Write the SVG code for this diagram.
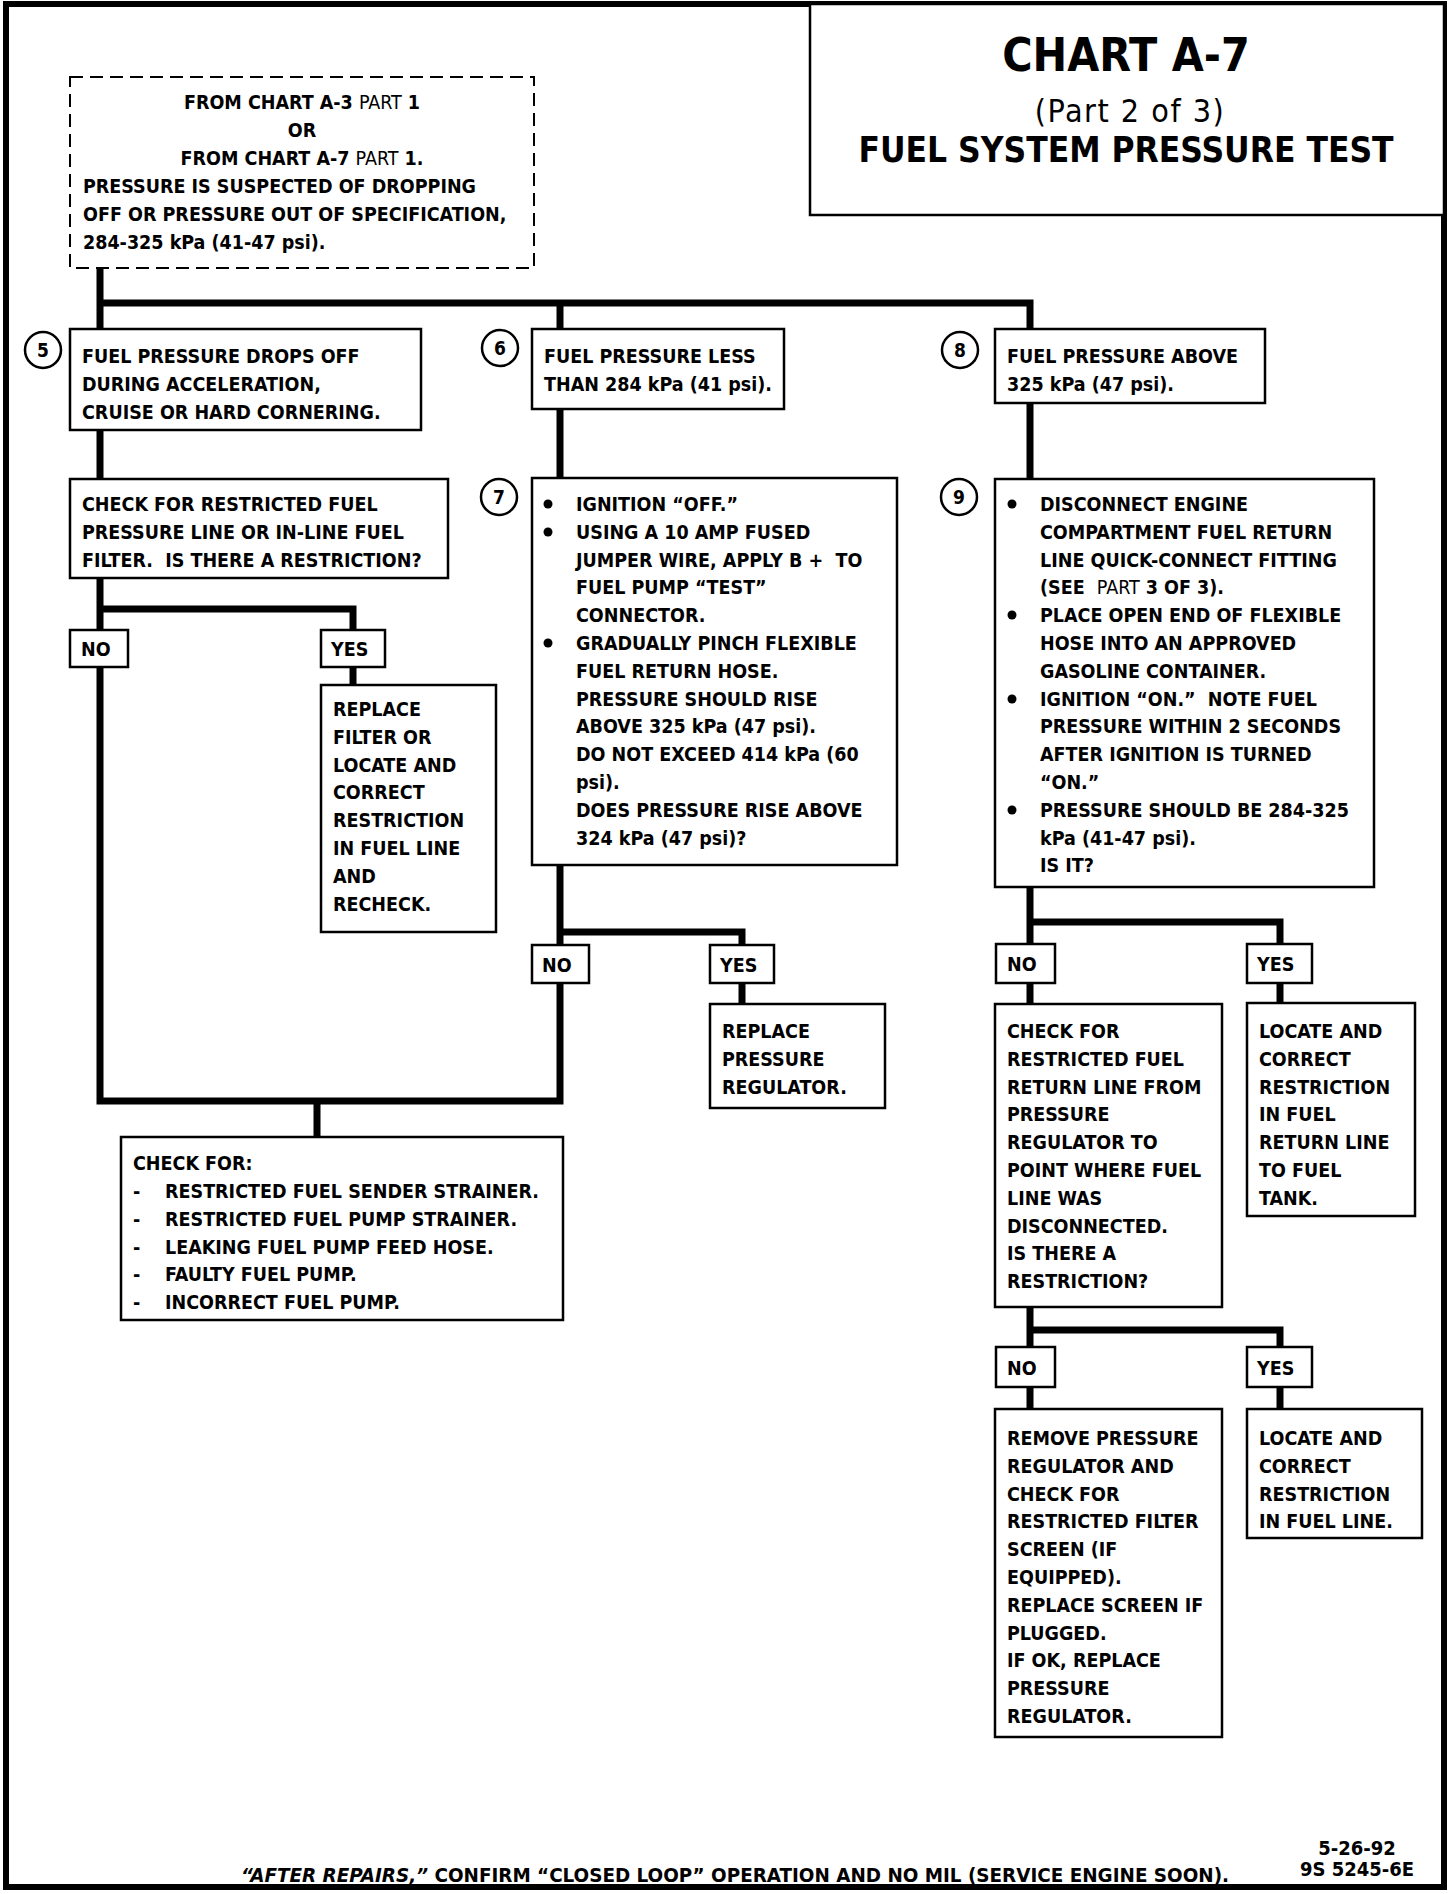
<svg xmlns="http://www.w3.org/2000/svg" width="1456" height="1894" viewBox="0 0 1456 1894">
<style>
text{font-family:"DejaVu Sans Condensed","DejaVu Sans",sans-serif;font-stretch:condensed;font-weight:bold;font-size:19.5px;fill:#000}
.n{font-weight:normal}
.box{fill:#fff;stroke:#000;stroke-width:2.5}
.dash{fill:#fff;stroke:#000;stroke-width:2;stroke-dasharray:13 7}
.conn{fill:none;stroke:#000;stroke-width:7;stroke-linejoin:miter}
.circ{fill:#fff;stroke:#000;stroke-width:2.5}
.num{font-size:19px;text-anchor:middle}
.c{text-anchor:middle}
</style>
<rect x="6" y="4" width="1438" height="1883" fill="#fff" stroke="#000" stroke-width="6"/>

<g id="connectors">
<path class="conn" d="M100,269 V329 M100,303 H1030 V329 M560,303 V329"/>
<path class="conn" d="M100,430 V479"/>
<path class="conn" d="M100,578 V630 M100,609 H353 V630"/>
<path class="conn" d="M100,667 V1101 H560 V983 M317,1101 V1137"/>
<path class="conn" d="M353,667 V685"/>
<path class="conn" d="M560,409 V478"/>
<path class="conn" d="M560,865 V945 M560,932 H742 V945"/>
<path class="conn" d="M742,983 V1004"/>
<path class="conn" d="M1030,403 V479"/>
<path class="conn" d="M1030,887 V944 M1030,922 H1280 V944"/>
<path class="conn" d="M1030,983 V1004 M1280,983 V1003"/>
<path class="conn" d="M1030,1307 V1347 M1030,1330 H1280 V1347"/>
<path class="conn" d="M1030,1387 V1409 M1280,1387 V1409"/>
</g>

<g id="title">
<rect class="box" x="810" y="4" width="634" height="211"/>
<text class="c" x="1126" y="71" style="font-size:46px">CHART A-7</text>
<text class="c n" x="1130" y="122" style="font-size:32px;letter-spacing:1.5px">(Part 2 of 3)</text>
<text class="c" x="1126" y="162" style="font-size:35px">FUEL SYSTEM PRESSURE TEST</text>
</g>

<g id="start">
<rect class="dash" x="70" y="77" width="464" height="191"/>
<text class="c" x="302" y="109">FROM CHART A-3 <tspan class="n">PART</tspan> 1</text>
<text class="c" x="302" y="137">OR</text>
<text class="c" x="302" y="165">FROM CHART A-7 <tspan class="n">PART</tspan> 1.</text>
<text x="83" y="193">PRESSURE IS SUSPECTED OF DROPPING<tspan x="83" dy="27.8">OFF OR PRESSURE OUT OF SPECIFICATION,</tspan><tspan x="83" dy="27.8">284-325 kPa (41-47 psi).</tspan></text>
</g>

<g id="step5">
<circle class="circ" cx="43" cy="350" r="18"/>
<text class="num" x="43" y="357">5</text>
<rect class="box" x="70" y="329" width="351" height="101"/>
<text x="82" y="363">FUEL PRESSURE DROPS OFF<tspan x="82" dy="27.8">DURING ACCELERATION,</tspan><tspan x="82" dy="27.8">CRUISE OR HARD CORNERING.</tspan></text>
</g>

<g id="step6">
<circle class="circ" cx="500" cy="348" r="18"/>
<text class="num" x="500" y="355">6</text>
<rect class="box" x="532" y="329" width="252" height="80"/>
<text x="544" y="363">FUEL PRESSURE LESS<tspan x="544" dy="27.8">THAN 284 kPa (41 psi).</tspan></text>
</g>

<g id="step8">
<circle class="circ" cx="960" cy="350" r="18"/>
<text class="num" x="960" y="357">8</text>
<rect class="box" x="995" y="329" width="270" height="74"/>
<text x="1007" y="363">FUEL PRESSURE ABOVE<tspan x="1007" dy="27.8">325 kPa (47 psi).</tspan></text>
</g>

<g id="check-restriction">
<rect class="box" x="70" y="479" width="378" height="99"/>
<text x="82" y="511">CHECK FOR RESTRICTED FUEL<tspan x="82" dy="27.8">PRESSURE LINE OR IN-LINE FUEL</tspan><tspan x="82" dy="27.8">FILTER.&#160; IS THERE A RESTRICTION?</tspan></text>
</g>

<g id="no1"><rect class="box" x="70" y="630" width="58" height="37"/><text x="81" y="656">NO</text></g>
<g id="yes1"><rect class="box" x="321" y="630" width="64" height="37"/><text x="331" y="656">YES</text></g>

<g id="replace-filter">
<rect class="box" x="321" y="685" width="175" height="247"/>
<text x="333" y="716">REPLACE<tspan x="333" dy="27.8">FILTER OR</tspan><tspan x="333" dy="27.8">LOCATE AND</tspan><tspan x="333" dy="27.8">CORRECT</tspan><tspan x="333" dy="27.8">RESTRICTION</tspan><tspan x="333" dy="27.8">IN FUEL LINE</tspan><tspan x="333" dy="27.8">AND</tspan><tspan x="333" dy="27.8">RECHECK.</tspan></text>
</g>

<g id="step7">
<circle class="circ" cx="499" cy="497" r="18"/>
<text class="num" x="499" y="504">7</text>
<rect class="box" x="532" y="478" width="365" height="387"/>
<circle cx="548" cy="504" r="4.5"/>
<circle cx="548" cy="532" r="4.5"/>
<circle cx="548" cy="643" r="4.5"/>
<text x="576" y="511">IGNITION “OFF.”<tspan x="576" dy="27.8">USING A 10 AMP FUSED</tspan><tspan x="576" dy="27.8">JUMPER WIRE, APPLY B +&#160; TO</tspan><tspan x="576" dy="27.8">FUEL PUMP “TEST”</tspan><tspan x="576" dy="27.8">CONNECTOR.</tspan><tspan x="576" dy="27.8">GRADUALLY PINCH FLEXIBLE</tspan><tspan x="576" dy="27.8">FUEL RETURN HOSE.</tspan><tspan x="576" dy="27.8">PRESSURE SHOULD RISE</tspan><tspan x="576" dy="27.8">ABOVE 325 kPa (47 psi).</tspan><tspan x="576" dy="27.8">DO NOT EXCEED 414 kPa (60</tspan><tspan x="576" dy="27.8">psi).</tspan><tspan x="576" dy="27.8">DOES PRESSURE RISE ABOVE</tspan><tspan x="576" dy="27.8">324 kPa (47 psi)?</tspan></text>
</g>

<g id="no2"><rect class="box" x="532" y="945" width="57" height="38"/><text x="542" y="972">NO</text></g>
<g id="yes2"><rect class="box" x="710" y="945" width="64" height="38"/><text x="720" y="972">YES</text></g>

<g id="replace-regulator">
<rect class="box" x="710" y="1004" width="175" height="104"/>
<text x="722" y="1038">REPLACE<tspan x="722" dy="27.8">PRESSURE</tspan><tspan x="722" dy="27.8">REGULATOR.</tspan></text>
</g>

<g id="check-for">
<rect class="box" x="121" y="1137" width="442" height="183"/>
<text x="133" y="1170">CHECK FOR:</text>
<text x="133" y="1198">-<tspan x="133" dy="27.8">-</tspan><tspan x="133" dy="27.8">-</tspan><tspan x="133" dy="27.8">-</tspan><tspan x="133" dy="27.8">-</tspan></text>
<text x="165" y="1198">RESTRICTED FUEL SENDER STRAINER.<tspan x="165" dy="27.8">RESTRICTED FUEL PUMP STRAINER.</tspan><tspan x="165" dy="27.8">LEAKING FUEL PUMP FEED HOSE.</tspan><tspan x="165" dy="27.8">FAULTY FUEL PUMP.</tspan><tspan x="165" dy="27.8">INCORRECT FUEL PUMP.</tspan></text>
</g>

<g id="step9">
<circle class="circ" cx="959" cy="497" r="18"/>
<text class="num" x="959" y="504">9</text>
<rect class="box" x="995" y="479" width="379" height="408"/>
<circle cx="1012" cy="504" r="4.5"/>
<circle cx="1012" cy="615" r="4.5"/>
<circle cx="1012" cy="699" r="4.5"/>
<circle cx="1012" cy="810" r="4.5"/>
<text x="1040" y="511">DISCONNECT ENGINE<tspan x="1040" dy="27.8">COMPARTMENT FUEL RETURN</tspan><tspan x="1040" dy="27.8">LINE QUICK-CONNECT FITTING</tspan><tspan x="1040" dy="27.8">(SEE&#160; <tspan class="n">PART</tspan> 3 OF 3).</tspan><tspan x="1040" dy="27.8">PLACE OPEN END OF FLEXIBLE</tspan><tspan x="1040" dy="27.8">HOSE INTO AN APPROVED</tspan><tspan x="1040" dy="27.8">GASOLINE CONTAINER.</tspan><tspan x="1040" dy="27.8">IGNITION “ON.”&#160; NOTE FUEL</tspan><tspan x="1040" dy="27.8">PRESSURE WITHIN 2 SECONDS</tspan><tspan x="1040" dy="27.8">AFTER IGNITION IS TURNED</tspan><tspan x="1040" dy="27.8">“ON.”</tspan><tspan x="1040" dy="27.8">PRESSURE SHOULD BE 284-325</tspan><tspan x="1040" dy="27.8">kPa (41-47 psi).</tspan><tspan x="1040" dy="27.8">IS IT?</tspan></text>
</g>

<g id="no3"><rect class="box" x="996" y="944" width="59" height="39"/><text x="1007" y="971">NO</text></g>
<g id="yes3"><rect class="box" x="1247" y="944" width="65" height="39"/><text x="1257" y="971">YES</text></g>

<g id="check-return">
<rect class="box" x="995" y="1004" width="227" height="303"/>
<text x="1007" y="1038">CHECK FOR<tspan x="1007" dy="27.8">RESTRICTED FUEL</tspan><tspan x="1007" dy="27.8">RETURN LINE FROM</tspan><tspan x="1007" dy="27.8">PRESSURE</tspan><tspan x="1007" dy="27.8">REGULATOR TO</tspan><tspan x="1007" dy="27.8">POINT WHERE FUEL</tspan><tspan x="1007" dy="27.8">LINE WAS</tspan><tspan x="1007" dy="27.8">DISCONNECTED.</tspan><tspan x="1007" dy="27.8">IS THERE A</tspan><tspan x="1007" dy="27.8">RESTRICTION?</tspan></text>
</g>

<g id="locate-return">
<rect class="box" x="1247" y="1003" width="168" height="213"/>
<text x="1259" y="1038">LOCATE AND<tspan x="1259" dy="27.8">CORRECT</tspan><tspan x="1259" dy="27.8">RESTRICTION</tspan><tspan x="1259" dy="27.8">IN FUEL</tspan><tspan x="1259" dy="27.8">RETURN LINE</tspan><tspan x="1259" dy="27.8">TO FUEL</tspan><tspan x="1259" dy="27.8">TANK.</tspan></text>
</g>

<g id="no4"><rect class="box" x="996" y="1347" width="59" height="40"/><text x="1007" y="1375">NO</text></g>
<g id="yes4"><rect class="box" x="1247" y="1347" width="65" height="40"/><text x="1257" y="1375">YES</text></g>

<g id="remove-regulator">
<rect class="box" x="995" y="1409" width="227" height="328"/>
<text x="1007" y="1445">REMOVE PRESSURE<tspan x="1007" dy="27.8">REGULATOR AND</tspan><tspan x="1007" dy="27.8">CHECK FOR</tspan><tspan x="1007" dy="27.8">RESTRICTED FILTER</tspan><tspan x="1007" dy="27.8">SCREEN (IF</tspan><tspan x="1007" dy="27.8">EQUIPPED).</tspan><tspan x="1007" dy="27.8">REPLACE SCREEN IF</tspan><tspan x="1007" dy="27.8">PLUGGED.</tspan><tspan x="1007" dy="27.8">IF OK, REPLACE</tspan><tspan x="1007" dy="27.8">PRESSURE</tspan><tspan x="1007" dy="27.8">REGULATOR.</tspan></text>
</g>

<g id="locate-line">
<rect class="box" x="1247" y="1409" width="175" height="129"/>
<text x="1259" y="1445">LOCATE AND<tspan x="1259" dy="27.8">CORRECT</tspan><tspan x="1259" dy="27.8">RESTRICTION</tspan><tspan x="1259" dy="27.8">IN FUEL LINE.</tspan></text>
</g>

<g id="footer">
<text x="241" y="1882" style="font-size:20px" textLength="988" lengthAdjust="spacingAndGlyphs"><tspan font-style="italic">“AFTER REPAIRS,”</tspan> CONFIRM “CLOSED LOOP” OPERATION AND NO MIL (SERVICE ENGINE SOON).</text>
<text class="c" x="1357" y="1855" style="font-size:20px">5-26-92</text>
<text class="c" x="1357" y="1876" style="font-size:20px">9S 5245-6E</text>
</g>
</svg>
